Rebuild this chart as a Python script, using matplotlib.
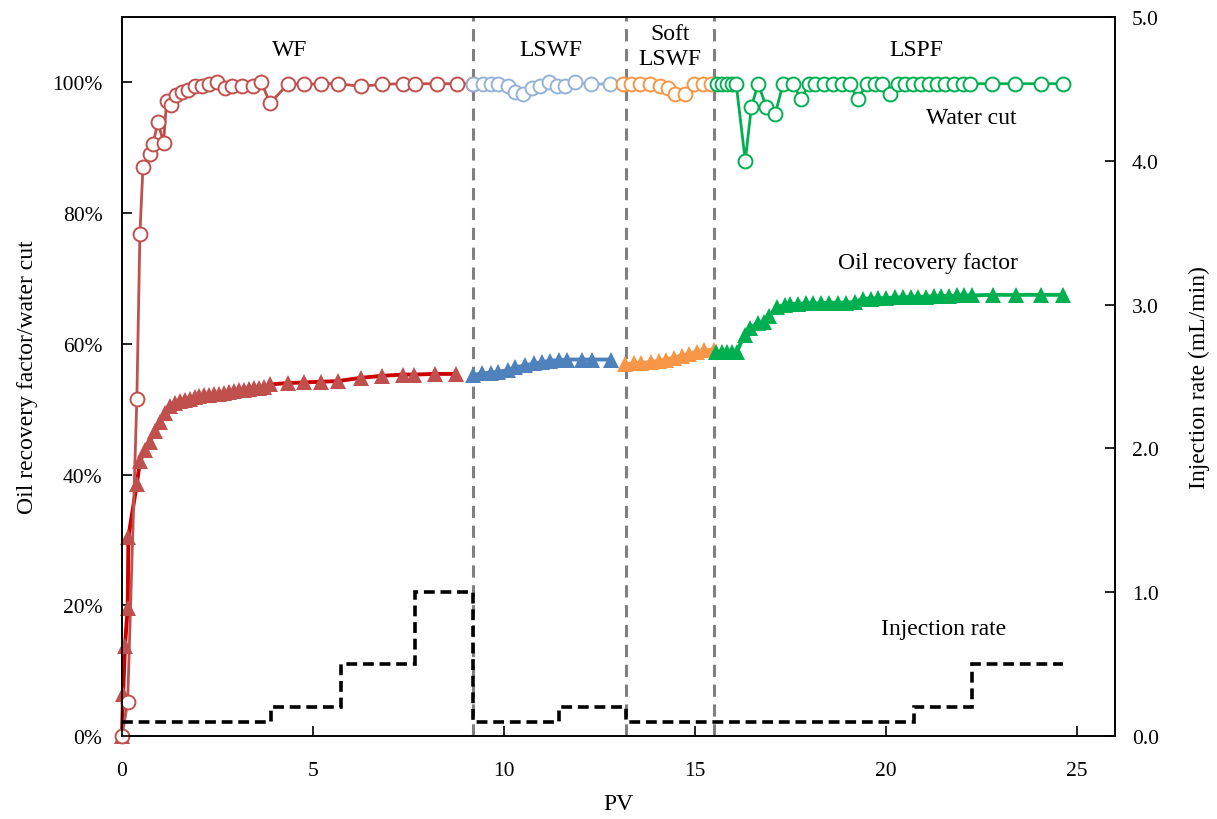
import numpy as np
import matplotlib
matplotlib.use("Agg")
import matplotlib.pyplot as plt
from matplotlib.ticker import FuncFormatter, MultipleLocator

plt.rcParams['font.family'] = ['Liberation Serif', 'DejaVu Serif']

# ---- data (PV, fraction) ----
wc_wf_x = [0.0, 0.15, 0.39, 0.47, 0.55, 0.73, 0.81, 0.94, 1.09, 1.17, 1.28, 1.41, 1.56, 1.72,
           1.9, 2.09, 2.29, 2.5, 2.71, 2.89, 3.15, 3.42, 3.65, 3.88, 4.35, 4.77, 5.21, 5.66,
           6.26, 6.8, 7.35, 7.66, 8.24, 8.78, 9.2]
wc_wf_y = [0.0, 0.052, 0.515, 0.768, 0.87, 0.891, 0.905, 0.939, 0.908, 0.972, 0.966, 0.98,
           0.985, 0.989, 0.994, 0.995, 0.997, 1.0, 0.991, 0.994, 0.995, 0.994, 1.0, 0.968,
           0.998, 0.997, 0.998, 0.998, 0.994, 0.997, 0.998, 0.998, 0.998, 0.998, 0.998]

wc_lswf_x = [9.2, 9.46, 9.65, 9.85, 10.11, 10.3, 10.5, 10.74, 10.95, 11.18, 11.39, 11.6,
             11.86, 12.28, 12.77]
wc_lswf_y = [0.998, 0.997, 0.998, 0.998, 0.994, 0.985, 0.982, 0.991, 0.994, 1.0, 0.994,
             0.995, 1.0, 0.997, 0.998]

wc_soft_x = [13.11, 13.32, 13.56, 13.82, 14.08, 14.29, 14.49, 14.75, 14.99, 15.2, 15.41]
wc_soft_y = [0.998, 0.998, 0.997, 0.998, 0.994, 0.991, 0.983, 0.983, 0.998, 0.998, 0.998]

wc_lspf_x = [15.59, 15.72, 15.85, 15.98, 16.08, 16.32, 16.48, 16.66, 16.87, 17.1, 17.31,
             17.57, 17.78, 17.99, 18.14, 18.38, 18.61, 18.85, 19.06, 19.26, 19.5, 19.71,
             19.89, 20.1, 20.33, 20.49, 20.7, 20.91, 21.14, 21.35, 21.56, 21.79, 22.03,
             22.21, 22.78, 23.38, 24.06, 24.64]
wc_lspf_y = [0.998, 0.998, 0.998, 0.998, 0.998, 0.88, 0.963, 0.998, 0.962, 0.951, 0.998,
             0.998, 0.974, 0.998, 0.998, 0.998, 0.998, 0.998, 0.998, 0.974, 0.998, 0.998,
             0.998, 0.983, 0.998, 0.998, 0.998, 0.998, 0.998, 0.998, 0.998, 0.998, 0.998,
             0.998, 0.998, 0.998, 0.998, 0.998]

orf_wf_x = [0.0, 0.03, 0.08, 0.15, 0.17, 0.39, 0.47, 0.6, 0.73, 0.86, 0.99, 1.12, 1.25, 1.38,
            1.51, 1.64, 1.77, 1.9, 2.03, 2.16, 2.29, 2.42, 2.55, 2.68, 2.81, 2.94, 3.07,
            3.2, 3.33, 3.46, 3.59, 3.72, 3.88, 4.35, 4.77, 5.2, 5.65, 6.25, 6.8, 7.35, 7.65,
            8.2, 8.75]
orf_wf_y = [0.0, 0.064, 0.138, 0.196, 0.305, 0.386, 0.42, 0.437, 0.45, 0.466, 0.48, 0.494,
            0.505, 0.51, 0.512, 0.514, 0.516, 0.518, 0.52, 0.521, 0.522, 0.523, 0.524, 0.525,
            0.527, 0.528, 0.529, 0.53, 0.531, 0.532, 0.533, 0.534, 0.538, 0.54, 0.541, 0.542,
            0.543, 0.548, 0.551, 0.553, 0.553, 0.554, 0.554]

orf_lswf_x = [9.2, 9.42, 9.65, 9.85, 10.1, 10.3, 10.55, 10.8, 11.0, 11.2, 11.45, 11.65,
              12.05, 12.3, 12.8]
orf_lswf_y = [0.552, 0.555, 0.556, 0.557, 0.56, 0.564, 0.567, 0.57, 0.572, 0.574, 0.575,
              0.576, 0.576, 0.576, 0.576]

orf_soft_x = [13.18, 13.4, 13.6, 13.85, 14.05, 14.25, 14.45, 14.65, 14.85, 15.05, 15.25, 15.5]
orf_soft_y = [0.569, 0.57, 0.571, 0.572, 0.574, 0.576, 0.579, 0.582, 0.585, 0.588, 0.59, 0.591]

orf_lspf_x = [15.55, 15.72, 15.85, 15.98, 16.1, 16.3, 16.45, 16.65, 16.8, 16.95, 17.15, 17.35,
              17.5, 17.7, 17.9, 18.1, 18.3, 18.5, 18.75, 18.95, 19.2, 19.4, 19.6, 19.8, 20.0,
              20.25, 20.45, 20.65, 20.85, 21.05, 21.25, 21.45, 21.65, 21.85, 22.05, 22.25,
              22.8, 23.4, 24.05, 24.65]
orf_lspf_y = [0.588, 0.588, 0.588, 0.588, 0.588, 0.614, 0.624, 0.632, 0.633, 0.643, 0.656,
              0.66, 0.661, 0.661, 0.662, 0.662, 0.662, 0.663, 0.663, 0.663, 0.664, 0.669,
              0.669, 0.67, 0.67, 0.671, 0.671, 0.672, 0.672, 0.672, 0.673, 0.673, 0.673,
              0.674, 0.674, 0.674, 0.675, 0.675, 0.675, 0.675]

# injection rate steps (mL/min): edges and values
inj_edges = [0.0, 3.9, 5.73, 7.66, 9.18, 11.44, 13.19, 20.74, 22.26, 24.65]
inj_rate = [0.1, 0.2, 0.5, 1.0, 0.1, 0.2, 0.1, 0.2, 0.5]

stage_bounds = [9.18, 13.19, 15.51]

c_red = '#C0504D'
c_blue = '#4F81BD'
c_lblue = '#95B3D7'
c_orange = '#F79646'
c_green = '#00B050'

fig = plt.figure(figsize=(12.17, 8.2), dpi=100)
ax = fig.add_axes([0.1002, 0.1012, 0.8160, 0.8768])
ax2 = ax.twinx()

# stage separators
for xb in stage_bounds:
    ax.axvline(xb, color='#808080', ls=(0, (4, 2.5)), lw=2.2, zorder=1)

# water cut
wc_kw = dict(marker='o', ms=10, mfc='white', mew=1.4, lw=2.0, clip_on=False, zorder=4)
ax.plot(wc_wf_x, wc_wf_y, color=c_red, **wc_kw)
ax.plot(wc_lswf_x, wc_lswf_y, color=c_lblue, **wc_kw)
ax.plot(wc_soft_x, wc_soft_y, color=c_orange, **wc_kw)
ax.plot(wc_lspf_x, wc_lspf_y, color=c_green, **wc_kw)

# oil recovery factor
orf_kw = dict(marker='^', ms=11.5, mew=0, lw=2.8, clip_on=False, zorder=3)
ax.plot(orf_wf_x, orf_wf_y, color='#CC0000', mfc=c_red, **orf_kw)
ax.plot(orf_lswf_x, orf_lswf_y, color=c_blue, mfc=c_blue, **orf_kw)
ax.plot(orf_soft_x, orf_soft_y, color=c_orange, mfc=c_orange, **orf_kw)
ax.plot(orf_lspf_x, orf_lspf_y, color=c_green, mfc=c_green, **orf_kw)

# injection rate
ax2.stairs(inj_rate, inj_edges, color='black', ls=(0, (3, 1.6)), lw=2.6, baseline=None)

ax.set_xlim(0, 26)
ax.set_ylim(0, 1.1)
ax2.set_ylim(0, 5.0)
ax.xaxis.set_major_locator(MultipleLocator(5))
ax.yaxis.set_major_locator(MultipleLocator(0.2))
ax.yaxis.set_major_formatter(FuncFormatter(lambda v, p: '%d%%' % round(v * 100)))
ax2.yaxis.set_major_locator(MultipleLocator(1.0))
ax2.yaxis.set_major_formatter(FuncFormatter(lambda v, p: '%.1f' % v))

for a in (ax, ax2):
    a.tick_params(direction='in', length=7, width=1.2, labelsize=15.5)
    for s in a.spines.values():
        s.set_linewidth(1.2)
ax.tick_params(axis='x', pad=18)
ax.tick_params(axis='y', pad=14)
ax2.tick_params(axis='y', pad=12)

ax.set_xlabel('PV', fontsize=17, labelpad=9)
ax.set_ylabel('Oil recovery factor/water cut', fontsize=17, labelpad=10)
ax2.set_ylabel('Injection rate (mL/min)', fontsize=17, labelpad=22)

# annotations
ax.text(4.4, 1.05, 'WF', fontsize=17, ha='center', va='center')
ax.text(11.24, 1.05, 'LSWF', fontsize=17, ha='center', va='center')
ax.text(14.34, 1.055, 'Soft\nLSWF', fontsize=17, ha='center', va='center', linespacing=1.25)
ax.text(20.8, 1.05, 'LSPF', fontsize=17, ha='center', va='center')
ax.text(22.24, 0.946, 'Water cut', fontsize=17, ha='center', va='center')
ax.text(21.1, 0.724, 'Oil recovery factor', fontsize=17, ha='center', va='center')
ax.text(21.5, 0.164, 'Injection rate', fontsize=17, ha='center', va='center')

fig.savefig('out.png', dpi=100)
